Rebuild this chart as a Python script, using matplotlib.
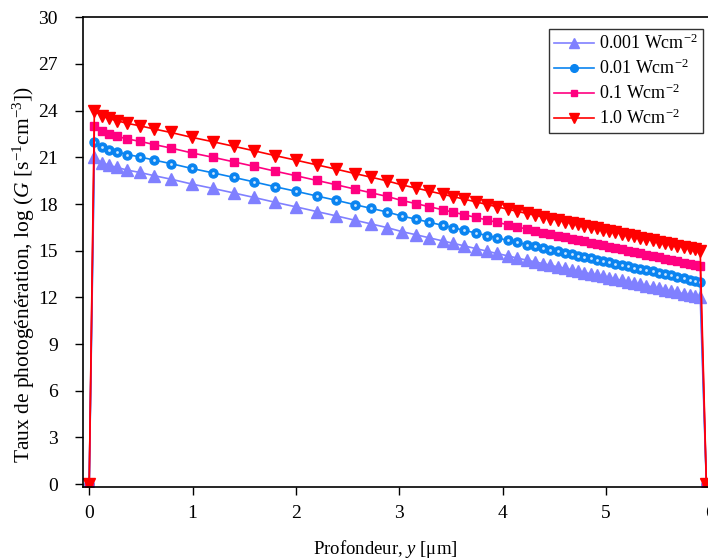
import matplotlib
matplotlib.use("Agg")
import matplotlib.pyplot as plt

plt.rcParams["font.family"] = ["Liberation Serif", "DejaVu Serif"]
plt.rcParams["mathtext.fontset"] = "custom"
plt.rcParams["mathtext.rm"] = "Liberation Serif"
plt.rcParams["mathtext.it"] = "Liberation Serif:italic"

# depth y [um], shared by all four series
depth = [0.0, 0.05, 0.12, 0.19, 0.27, 0.37, 0.49, 0.63, 0.79, 0.99, 1.20, 1.40, 1.59, 1.80,
         2.00, 2.20, 2.39, 2.57, 2.73, 2.88, 3.03, 3.16, 3.29, 3.42, 3.52, 3.63, 3.74, 3.85,
         3.94, 4.05, 4.14, 4.23, 4.31, 4.39, 4.46, 4.53, 4.60, 4.67, 4.73, 4.79, 4.85, 4.91,
         4.97, 5.03, 5.09, 5.15, 5.21, 5.27, 5.33, 5.39, 5.45, 5.51, 5.57, 5.63, 5.69, 5.75,
         5.81, 5.86, 5.91, 5.97]

g_0001 = [0, 21.0, 20.67, 20.5, 20.35, 20.18, 20.03, 19.82, 19.6, 19.29, 19.0, 18.71, 18.43,
          18.11, 17.82, 17.52, 17.24, 16.96, 16.72, 16.49, 16.22, 16.03, 15.83, 15.63, 15.48,
          15.31, 15.14, 14.97, 14.83, 14.67, 14.53, 14.40, 14.29, 14.17, 14.07, 13.97, 13.87,
          13.77, 13.69, 13.60, 13.52, 13.43, 13.35, 13.26, 13.18, 13.09, 13.01, 12.92, 12.84,
          12.75, 12.67, 12.58, 12.49, 12.41, 12.32, 12.24, 12.15, 12.08, 12.01, 0]
g_001 = [0, 22.0, 21.67, 21.5, 21.35, 21.18, 21.03, 20.82, 20.6, 20.29, 20.0, 19.71, 19.43,
         19.11, 18.82, 18.52, 18.24, 17.96, 17.72, 17.49, 17.22, 17.03, 16.83, 16.63, 16.48,
         16.31, 16.14, 15.97, 15.83, 15.67, 15.53, 15.40, 15.29, 15.17, 15.07, 14.97, 14.87,
         14.77, 14.69, 14.60, 14.52, 14.43, 14.35, 14.26, 14.18, 14.09, 14.01, 13.92, 13.84,
         13.75, 13.67, 13.58, 13.49, 13.41, 13.32, 13.24, 13.15, 13.08, 13.01, 0]
g_01 = [0, 23.0, 22.67, 22.5, 22.35, 22.18, 22.03, 21.82, 21.6, 21.29, 21.0, 20.71, 20.43,
        20.11, 19.82, 19.52, 19.24, 18.96, 18.72, 18.49, 18.22, 18.03, 17.83, 17.63, 17.48,
        17.31, 17.14, 16.97, 16.83, 16.67, 16.53, 16.40, 16.29, 16.17, 16.07, 15.97, 15.87,
        15.77, 15.69, 15.60, 15.52, 15.43, 15.35, 15.26, 15.18, 15.09, 15.01, 14.92, 14.84,
        14.75, 14.67, 14.58, 14.49, 14.41, 14.32, 14.24, 14.15, 14.08, 14.01, 0]
g_1 = [0, 24.0, 23.67, 23.5, 23.35, 23.18, 23.03, 22.82, 22.6, 22.29, 22.0, 21.71, 21.43,
       21.11, 20.82, 20.52, 20.24, 19.96, 19.72, 19.49, 19.22, 19.03, 18.83, 18.63, 18.48,
       18.31, 18.14, 17.97, 17.83, 17.67, 17.53, 17.40, 17.29, 17.17, 17.07, 16.97, 16.87,
       16.77, 16.69, 16.60, 16.52, 16.43, 16.35, 16.26, 16.18, 16.09, 16.01, 15.92, 15.84,
       15.75, 15.67, 15.58, 15.49, 15.41, 15.32, 15.24, 15.15, 15.08, 15.01, 0]

labels = ["0.001 Wcm$^{-2}$", "0.01 Wcm$^{-2}$", "0.1 Wcm$^{-2}$", "1.0 Wcm$^{-2}$"]

fig = plt.figure(figsize=(7.08, 5.6), dpi=100)
ax = fig.add_axes([83 / 708, (560 - 487.3) / 560, (709.5 - 83) / 708, 470 / 560])

h1, = ax.plot(depth, g_0001, color="#8080ff", marker="^", ms=8, lw=1.2, label=labels[0])
h2, = ax.plot(depth, g_001, color="#0a84f0", marker="o", ms=6.5, lw=1.2, label=labels[1])
ax.plot(depth[1:-1], g_001[1:-1], ls="none", marker="o", ms=2, color="#cfe8ff", mew=0)
h3, = ax.plot(depth, g_01, color="#ff0080", marker="s", ms=5.5, lw=1.2, label=labels[2])
h4, = ax.plot(depth, g_1, color="#ff0000", marker="v", ms=8, lw=1.2, label=labels[3])

ax.set_xlim(-0.06, 6.0)
ax.set_ylim(-0.2, 30)
ax.set_xticks(range(0, 7))
ax.set_yticks(range(0, 31, 3))
ax.tick_params(direction="out", length=6, width=1, labelsize=14, top=False, right=False)
ax.tick_params(axis="x", pad=7)
ax.tick_params(axis="y", pad=12)
for s in ax.spines.values():
    s.set_linewidth(1.2)

ax.set_xlabel(r"Profondeur, $y$ [$\mathrm{\mu}$m]", fontsize=13.5)
ax.xaxis.set_label_coords(0.482, -0.108)
ax.set_ylabel(r"Taux de photogénération, log ($G$ [s$^{-1}$cm$^{-3}$])", fontsize=15.5)
ax.yaxis.set_label_coords(-0.0735, 0.454)

leg = ax.legend(handles=[h1, h2, h3, h4], loc="upper right", bbox_to_anchor=(0.99, 0.976),
                fontsize=13, frameon=True, fancybox=False, edgecolor="black",
                handlelength=2.2, borderpad=0.3, labelspacing=0.3, handletextpad=0.3,
                borderaxespad=0.0, markerscale=0.85)
leg.get_frame().set_linewidth(1.0)

fig.savefig("out.png", dpi=100)
